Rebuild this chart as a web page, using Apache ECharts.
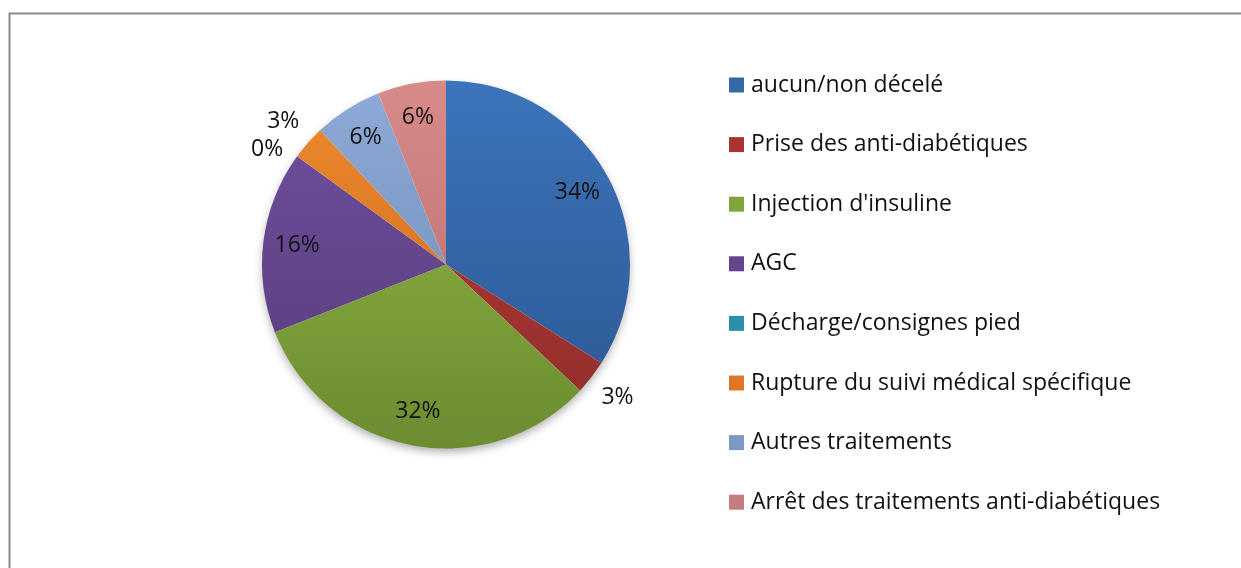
<!DOCTYPE html>
<html>
<head>
<meta charset="utf-8">
<script src="https://cdn.jsdelivr.net/npm/echarts@6/dist/echarts.min.js"></script>
<style>
html,body{margin:0;padding:0;background:#fff;}
#chart{width:1241px;height:568px;}
</style>
</head>
<body>
<div id="chart"></div>
<script>
// ---- data ----
var categories = [
  "aucun/non décelé",
  "Prise des anti-diabétiques",
  "Injection d'insuline",
  "AGC",
  "Décharge/consignes pied",
  "Rupture du suivi médical spécifique",
  "Autres traitements",
  "Arrêt des traitements anti-diabétiques"
];
var values = [34, 3, 32, 16, 0, 3, 6, 6]; // percent
var topColors    = ["#3d74bb", "#bb3c38", "#92b948", "#7150a0", "#2fa3bd", "#f08a2e", "#8eaad8", "#d88a88"];
var bottomColors = ["#2a5690", "#8e2d2b", "#6c8c30", "#553b78", "#227a8f", "#c4661c", "#6a86b0", "#b06a6a"];
var legendColors = ["#3568a8", "#a83532", "#80a53c", "#64468c", "#2a8fa8", "#de7826", "#7e98c4", "#c47c7c"];

var CX = 446, CY = 264.5, R = 184;
var FONT = "Open Sans";
var FS = 23;

var chart = echarts.init(document.getElementById('chart'), null, {renderer: 'canvas'});

function grad(i) {
  return new echarts.graphic.LinearGradient(0, CY - R, 0, CY + R, [
    {offset: 0, color: topColors[i]},
    {offset: 1, color: bottomColors[i]}
  ], true);
}

var mainData = categories.map(function (c, i) {
  return {name: c, value: values[i], itemStyle: {color: grad(i)}};
});
// big slices: label inside near the rim; zero slice: label just outside the rim
var innerLabelData = categories.map(function (c, i) {
  var zero = values[i] === 0;
  return {
    name: c, value: values[i],
    label: {show: values[i] >= 4 || zero, position: zero ? 'outside' : 'inside'}
  };
});
// small (non-zero) slices: label outside the pie
var outerLabelData = categories.map(function (c, i) {
  return {name: c, value: values[i], label: {show: values[i] < 4 && values[i] > 0}};
});

var labelBase = {
  position: 'inside',
  formatter: function (p) { return p.value + '%'; },
  fontFamily: FONT,
  fontSize: FS,
  color: '#111'
};

var option = {
  backgroundColor: '#fff',
  animation: false,
  graphic: [
    {type: 'rect', left: 7, top: 11, shape: {width: 1400, height: 800},
     style: {fill: 'none', stroke: '#8a8a8a', lineWidth: 2}, z: -10},
    {type: 'circle', shape: {cx: CX, cy: CY, r: R - 1},
     style: {fill: '#fff', shadowBlur: 10, shadowOffsetY: 4, shadowColor: 'rgba(0,0,0,0.35)'}, z: -5}
  ],
  legend: {
    orient: 'vertical',
    left: 729,
    top: 73.5,
    padding: 0,
    itemWidth: 15,
    itemHeight: 15,
    itemGap: 36.6,
    icon: 'rect',
    selectedMode: false,
    textStyle: {fontFamily: FONT, fontSize: FS, color: '#111', lineHeight: 23, padding: [0, 0, 0, 2]},
    data: categories.map(function (c, i) {
      return {name: c, itemStyle: {color: legendColors[i]}};
    })
  },
  series: [
    {
      type: 'pie',
      center: [CX, CY],
      radius: [0, R],
      startAngle: 90,
      clockwise: true,
      avoidLabelOverlap: false,
      label: {show: false},
      labelLine: {show: false},
      silent: true,
      itemStyle: {borderWidth: 0},
      data: mainData
    },
    {
      type: 'pie',
      center: [CX, CY],
      radius: [110, R],
      startAngle: 90,
      clockwise: true,
      avoidLabelOverlap: false,
      silent: true,
      minShowLabelAngle: 0,
      itemStyle: {color: 'rgba(0,0,0,0)'},
      label: labelBase,
      labelLine: {show: false, length: 11, length2: 0},
      data: innerLabelData
    },
    {
      type: 'pie',
      center: [CX, CY],
      radius: [R, 244],
      startAngle: 90,
      clockwise: true,
      avoidLabelOverlap: false,
      silent: true,
      minShowLabelAngle: 0,
      itemStyle: {color: 'rgba(0,0,0,0)'},
      label: labelBase,
      labelLine: {show: false},
      data: outerLabelData
    }
  ]
};
chart.setOption(option);
</script>
</body>
</html>
